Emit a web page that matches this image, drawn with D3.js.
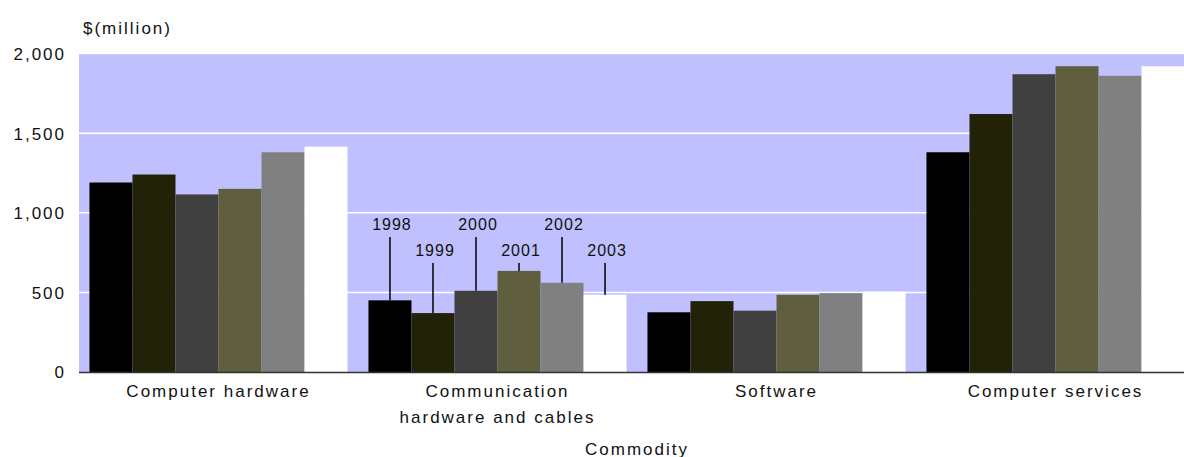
<!DOCTYPE html>
<html>
<head>
<meta charset="utf-8">
<script src="https://cdn.jsdelivr.net/npm/d3@7"></script>
<style>
	body	{ margin:0; background:#fff; }
	text	{ font-family:"Liberation Sans", Arial, sans-serif; font-size:17px; letter-spacing:2px; fill:#111; }
</style>
</head>
<body>
<svg id="chart" width="1184" height="457"></svg>
<script>
var categories	= [["Computer hardware"], ["Communication", "hardware and cables"], ["Software"], ["Computer services"]];
var years	= ["1998", "1999", "2000", "2001", "2002", "2003"];
var colors	= ["#000000", "#222208", "#404040", "#5f5f40", "#808080", "#ffffff"];
// one array per year, in the order of categories
var v1998	= [1190, 450, 375, 1380];
var v1999	= [1240, 370, 445, 1620];
var v2000	= [1115, 510, 385, 1870];
var v2001	= [1150, 635, 485, 1920];
var v2002	= [1380, 560, 495, 1860];
var v2003	= [1415, 485, 505, 1920];
var yTicks	= [0, 500, 1000, 1500, 2000];

(function() {
	var series = [v1998, v1999, v2000, v2001, v2002, v2003];
	var svg = d3.select('#chart');
	var pl = 79, pr = 1195, pt = 53.5, pb = 372;

	var x0 = d3.scaleBand().domain(d3.range(categories.length)).range([pl, pr]).paddingInner(0.075).paddingOuter(0.0375);
	var x1 = d3.scaleBand().domain(d3.range(years.length)).range([0, x0.bandwidth()]);
	var y  = d3.scaleLinear().domain([0, 2000]).range([pb, pt]);

	// plot background + grid
	svg.append('rect').attr('x', pl).attr('y', y(2000)).attr('width', pr-pl).attr('height', y(0)-y(2000)).attr('fill', '#c0c0ff');
	svg.append('g').selectAll('line').data(yTicks.filter(function(d){return d>0;})).enter().append('line')
		.attr('x1', pl).attr('x2', pr).attr('y1', function(d){return y(d);}).attr('y2', function(d){return y(d);})
		.attr('stroke', '#fff').attr('stroke-width', 1.5);

	// bars
	var groups = svg.append('g').selectAll('g').data(categories).enter().append('g')
		.attr('transform', function(d, i){return 'translate('+x0(i)+',0)';});
	groups.selectAll('rect').data(function(d, i){return series.map(function(s, k){return {k:k, v:s[i]};});}).enter().append('rect')
		.attr('x', function(d){return x1(d.k);}).attr('width', x1.bandwidth())
		.attr('y', function(d){return y(d.v);}).attr('height', function(d){return y(0)-y(d.v);})
		.attr('fill', function(d){return colors[d.k];});

	// x axis line
	svg.append('line').attr('x1', pl).attr('x2', pr).attr('y1', y(0)+0.5).attr('y2', y(0)+0.5).attr('stroke', '#333').attr('stroke-width', 1.5);

	// y axis labels
	var yAxis = svg.append('g').attr('transform', 'translate('+(pl-13)+',0)')
		.call(d3.axisLeft(y).tickValues(yTicks).tickFormat(d3.format(',')).tickSize(0).tickPadding(0));
	yAxis.select('.domain').remove();
	yAxis.attr('font-family', null).attr('font-size', null);
	yAxis.selectAll('text').attr('fill', '#111').attr('dy', '0.35em');

	svg.append('text').attr('x', 83).attr('y', 34).text('$(million)');

	// category labels
	groups.each(function(d, i){
		var t = d3.select(this).append('text').attr('text-anchor', 'middle').attr('y', 397);
		d.forEach(function(line, j){
			t.append('tspan').attr('x', x0.bandwidth()/2).attr('dy', j ? 26 : 0).text(line);
		});
	});
	svg.append('text').attr('text-anchor', 'middle').attr('x', (pl+pr)/2).attr('y', 455).text('Commodity');

	// year call-outs on the communication group
	var ci = 1, callout = svg.append('g').attr('transform', 'translate('+x0(ci)+',0)');
	callout.selectAll('g').data(years).enter().append('g').each(function(d, k){
		var cx = x1(k)+x1.bandwidth()/2, base = (k%2) ? 256 : 230;
		d3.select(this).append('text').attr('text-anchor', 'middle').attr('x', cx+2).attr('y', base).style('font-size', '16px').style('letter-spacing', '1px').text(d);
		d3.select(this).append('line').attr('x1', cx).attr('x2', cx).attr('y1', base+7).attr('y2', y(series[k][ci]))
			.attr('stroke', '#000').attr('stroke-width', 1.5);
	});
})();
</script>
</body>
</html>
